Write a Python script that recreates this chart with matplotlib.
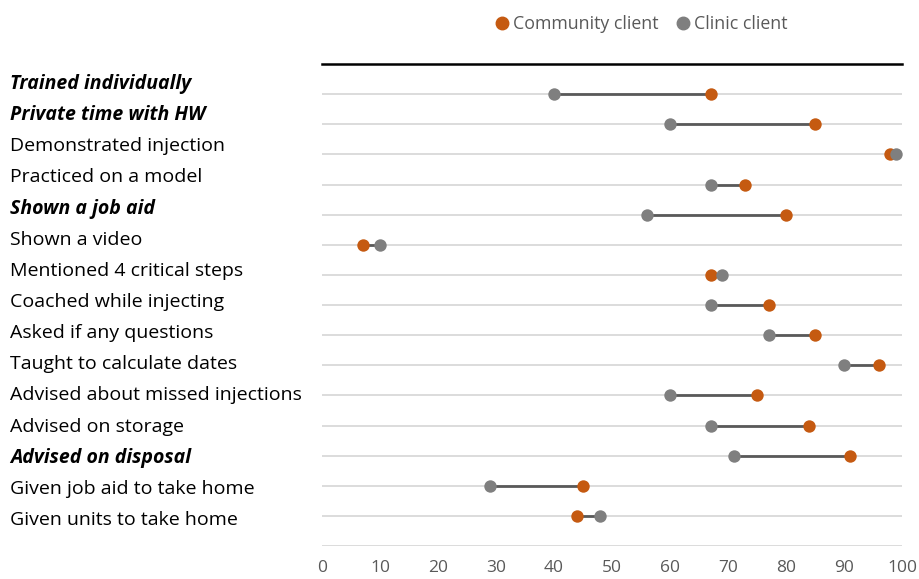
import matplotlib
matplotlib.use("Agg")
import matplotlib.pyplot as plt
from matplotlib.lines import Line2D

categories = [
    "Trained individually", "Private time with HW", "Demonstrated injection",
    "Practiced on a model", "Shown a job aid", "Shown a video",
    "Mentioned 4 critical steps", "Coached while injecting", "Asked if any questions",
    "Taught to calculate dates", "Advised about missed injections", "Advised on storage",
    "Advised on disposal", "Given job aid to take home", "Given units to take home",
]
emphasized = ["Trained individually", "Private time with HW", "Shown a job aid",
              "Advised on disposal"]
community = [67, 85, 98, 73, 80, 7, 67, 77, 85, 96, 75, 84, 91, 45, 44]
clinic = [40, 60, 99, 67, 56, 10, 69, 67, 77, 90, 60, 67, 71, 29, 48]
xticks = [0, 10, 20, 30, 40, 50, 60, 70, 80, 90, 100]

ORANGE = "#C55A11"
GRAY = "#7F7F7F"
TXT = "#595959"
FONT = ["Open Sans", "DejaVu Sans"]
plt.rcParams['font.family'] = FONT

fig = plt.figure(figsize=(9.19, 5.79), dpi=100)
ax = fig.add_axes([322/919, 1-546/579, 580/919, 482/579])

n = len(categories)
ys = list(range(1, n + 1))
ax.set_xlim(0, 100)
ax.set_ylim(n + 1, 0)

for g in range(0, n + 2):
    if g == 0:
        ax.axhline(g, color="black", lw=1.8, zorder=1, clip_on=False)
    else:
        ax.axhline(g, color="#D9D9D9", lw=1.3, zorder=0)

for y, c, k in zip(ys, community, clinic):
    ax.plot([c, k], [y, y], color="#595959", lw=2, zorder=2, solid_capstyle="butt")
ax.scatter(community, ys, s=80, color=ORANGE, zorder=3, linewidths=0, clip_on=False)
ax.scatter(clinic, ys, s=80, color=GRAY, zorder=4, linewidths=0, clip_on=False)

for s in ax.spines.values():
    s.set_visible(False)
ax.set_yticks([])
ax.set_xticks(xticks)
ax.set_xticklabels([str(t) for t in xticks], color=TXT, fontsize=12.5)
ax.tick_params(axis="x", length=0, pad=10)

# category labels
lab = fig.add_axes([0, 1-520/579, 0.3, (520-84)/579])
lab.set_axis_off()
lab.set_ylim(n - 1, 0)
lab.set_xlim(0, 1)
for i, name in enumerate(categories):
    if name in emphasized:
        lab.text(10/(0.3*919), i, name, fontsize=14, fontweight="bold", style="italic",
                 va="center", ha="left", color="black")
    else:
        lab.text(10/(0.3*919), i, name, fontsize=14, va="center", ha="left", color="black")

handles = [Line2D([], [], marker="o", ls="", color=ORANGE, markersize=9),
           Line2D([], [], marker="o", ls="", color=GRAY, markersize=9)]
fig.legend(handles, ["Community client", "Clinic client"], loc="center",
           bbox_to_anchor=(641/919, 1-24/579), ncol=2, frameon=False,
           fontsize=12.8, labelcolor=TXT, handlelength=0.8, handletextpad=0.2,
           columnspacing=1.0)

fig.savefig("out.png", dpi=100)
